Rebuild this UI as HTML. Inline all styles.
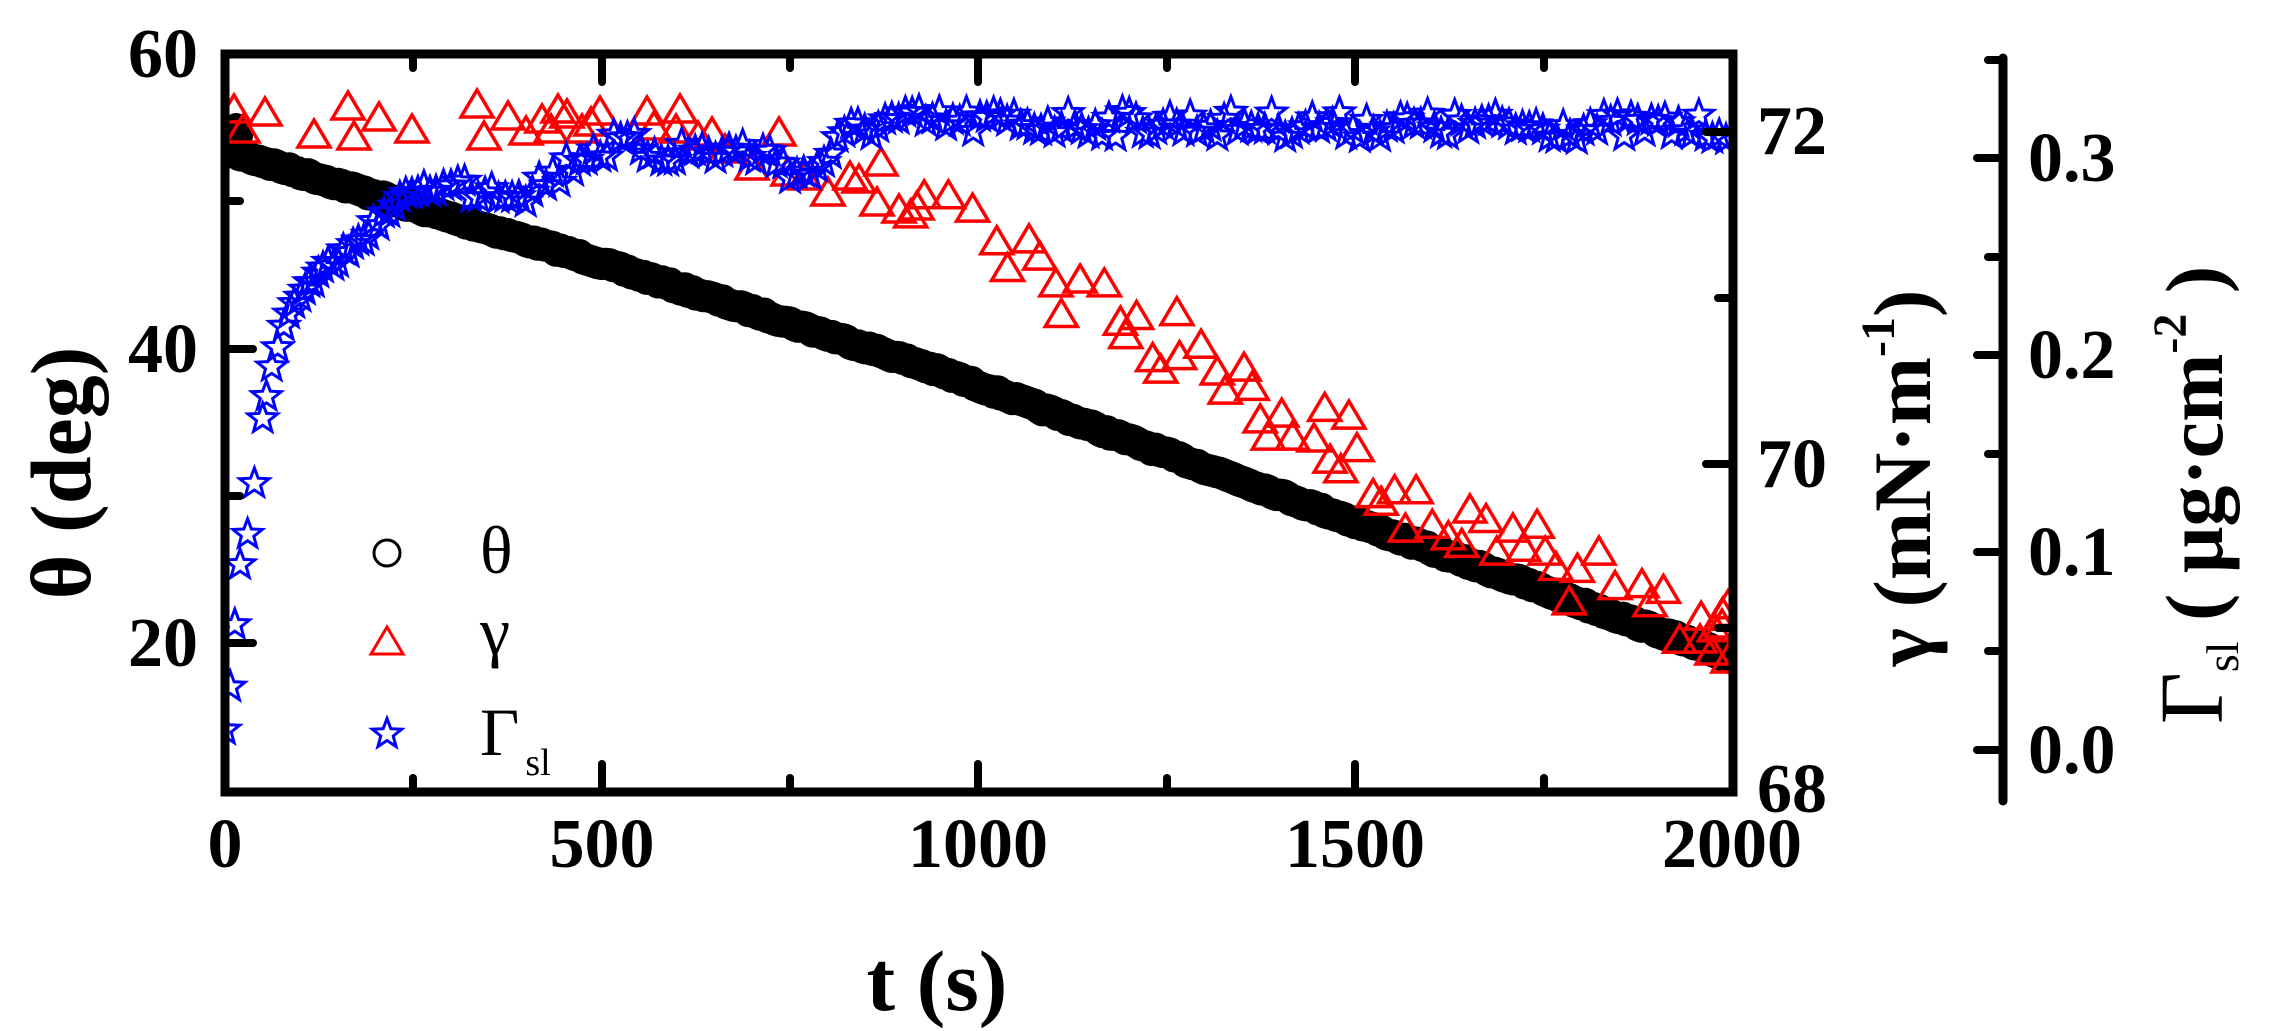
<!DOCTYPE html>
<html><head><meta charset="utf-8">
<style>
html,body{margin:0;padding:0;background:#fff;}
svg{display:block;font-family:"Liberation Serif","DejaVu Serif",serif;}
text,tspan{font-family:"Liberation Serif","DejaVu Serif",serif;}
</style></head>
<body>
<svg id="s" width="2278" height="1031" viewBox="0 0 2278 1031" xmlns="http://www.w3.org/2000/svg" font-family="Liberation Serif, DejaVu Serif, serif">
<defs><clipPath id="cp"><rect x="229" y="58" width="1500" height="730"/></clipPath></defs>
<rect width="2278" height="1031" fill="#fff"/>
<g id="data" clip-path="url(#cp)"></g>
<rect x="225" y="54" width="1508" height="738" fill="none" stroke="#000" stroke-width="9"/>
<g stroke="#000" stroke-width="8" stroke-linecap="round">
<line x1="225" y1="349" x2="253" y2="349"/><line x1="225" y1="643" x2="253" y2="643"/>
<line x1="225" y1="201" x2="240" y2="201"/><line x1="225" y1="496" x2="240" y2="496"/>
<line x1="602" y1="792" x2="602" y2="764"/><line x1="978" y1="792" x2="978" y2="764"/><line x1="1355" y1="792" x2="1355" y2="764"/>
<line x1="413" y1="792" x2="413" y2="778"/><line x1="790" y1="792" x2="790" y2="778"/><line x1="1167" y1="792" x2="1167" y2="778"/><line x1="1544" y1="792" x2="1544" y2="778"/>
<line x1="602" y1="54" x2="602" y2="82"/><line x1="978" y1="54" x2="978" y2="82"/><line x1="1355" y1="54" x2="1355" y2="82"/>
<line x1="413" y1="54" x2="413" y2="68"/><line x1="790" y1="54" x2="790" y2="68"/><line x1="1167" y1="54" x2="1167" y2="68"/><line x1="1544" y1="54" x2="1544" y2="68"/>
<line x1="1733" y1="132" x2="1706" y2="132"/><line x1="1733" y1="464" x2="1706" y2="464"/>
<line x1="1733" y1="298" x2="1718" y2="298"/><line x1="1733" y1="628" x2="1718" y2="628"/>
<line x1="2003" y1="58" x2="2003" y2="801" stroke-width="9"/>
<line x1="2003" y1="158" x2="1977" y2="158"/><line x1="2003" y1="355" x2="1977" y2="355"/><line x1="2003" y1="552" x2="1977" y2="552"/><line x1="2003" y1="750" x2="1977" y2="750"/>
<line x1="2003" y1="60" x2="1988" y2="60"/><line x1="2003" y1="257" x2="1988" y2="257"/><line x1="2003" y1="454" x2="1988" y2="454"/><line x1="2003" y1="651" x2="1988" y2="651"/>
</g>
<g font-size="70" font-weight="bold" fill="#000" font-family="Liberation Serif, serif">
<text x="198" y="77" text-anchor="end">60</text>
<text x="198" y="372" text-anchor="end">40</text>
<text x="198" y="666" text-anchor="end">20</text>
<text x="225" y="867" text-anchor="middle">0</text>
<text x="602" y="867" text-anchor="middle">500</text>
<text x="978" y="867" text-anchor="middle">1000</text>
<text x="1355" y="867" text-anchor="middle">1500</text>
<text x="1732" y="867" text-anchor="middle">2000</text>
<text x="1757" y="154">72</text>
<text x="1757" y="487">70</text>
<text x="1757" y="812">68</text>
<text x="2028" y="181">0.3</text>
<text x="2028" y="378">0.2</text>
<text x="2028" y="575">0.1</text>
<text x="2028" y="773">0.0</text>
</g>
<text x="937" y="1010" text-anchor="middle" font-size="86" font-weight="bold" font-family="Liberation Serif, serif">t (s)</text>
<text transform="translate(90,473) rotate(-90)" text-anchor="middle" font-size="86" font-weight="bold" font-family="Liberation Serif, serif">θ (deg)</text>
<text transform="translate(1930,478) rotate(-90)" text-anchor="middle" font-size="82" font-weight="bold" font-family="Liberation Serif, serif">γ (mN·m<tspan font-size="48" dy="-36">-1</tspan><tspan dy="36">)</tspan></text>
<text transform="translate(2222,495) rotate(-90)" text-anchor="middle" font-size="82" font-weight="bold" font-family="Liberation Serif, serif"><tspan font-weight="normal" font-size="90">Γ</tspan><tspan font-size="46" dy="16" font-weight="normal">sl</tspan><tspan dy="-16"> ( μg·cm</tspan><tspan font-size="48" dy="-36">-2</tspan><tspan dy="36"> )</tspan></text>
<circle cx="387" cy="553" r="13" fill="none" stroke="#000" stroke-width="3"/>
<text x="480" y="573" font-size="68" font-family="Liberation Serif, serif">θ</text>
<polygon points="387,627 371,654 403,654" fill="none" stroke="#f00" stroke-width="3"/>
<text x="480" y="654" font-size="68" font-family="Liberation Serif, serif">γ</text>
<g id="lgstar"></g>
<text x="480" y="755" font-size="68" font-family="Liberation Serif, serif">Γ<tspan font-size="38" dy="20" dx="6">sl</tspan></text>
</svg>
<script>
(function(){
var NS="http://www.w3.org/2000/svg";
var g=document.getElementById("data");
function X(t){return 225+t*0.7535;}
function el(n,a,p){var e=document.createElementNS(NS,n);for(var k in a)e.setAttribute(k,a[k]);(p||g).appendChild(e);return e;}
var seed=7;function rnd(){seed=(seed*16807)%2147483647;return seed/2147483647;}
function interp(pts,t){for(var i=1;i<pts.length;i++){if(t<=pts[i][0]){var a=pts[i-1],b=pts[i];return a[1]+(b[1]-a[1])*(t-a[0])/(b[0]-a[0]);}}return pts[pts.length-1][1];}
var th=[[0,150],[60,164],[474,257],[924,365],[1400,495],[2000,658]];
var d="";for(var t=0;t<=2030;t+=5){var y=interp(th,t)+(rnd()-0.5)*3;if(t>2000)y=658+(t-2000)*0.27;d+=(t?"L":"M")+X(t).toFixed(1)+","+y.toFixed(1);}
el("path",{d:d,fill:"none",stroke:"#000","stroke-width":32,"stroke-linecap":"round","stroke-linejoin":"round"});
el("circle",{cx:236,cy:125,r:12,fill:"#000"});el("circle",{cx:240,cy:136,r:13,fill:"#000"});
function tri(cx,cy,p){el("polygon",{points:cx+","+(cy-15)+" "+(cx-16)+","+(cy+12)+" "+(cx+16)+","+(cy+12),fill:"none",stroke:"#f00","stroke-width":3.5},p);}
var tp=[[234,110],[243,130],[265,113],[314,135],[348,107],[354,137],[379,118],[412,130],[477,105],[484,137],[508,117],[526,132],[542,120],[558,110],[567,115],[551,130],[582,130],[600,112],[591,123],[647,112],[654,127],[680,110],[676,130],[698,137],[712,133],[725,150],[752,167],[779,133],[788,173],[805,177],[828,193],[850,177],[859,180],[877,203],[881,163],[899,210],[917,207]];
var zp=[[20,420],[45,370],[90,370],[135,405],[180,490],[240,485],[200,560],[260,530],[290,600],[335,590],[300,680],[380,600],[410,700],[440,685],[515,675],[420,735],[470,795],[560,760],[520,790],[485,825],[590,830],[640,820],[605,880],[655,870],[670,955],[710,940],[790,925],[835,945],[685,1000],[730,1000],[770,1005],[800,1060],[850,1030],[820,1085],[880,1150],[920,1140],[960,1140],[895,1170],[940,1240],[990,1230],[1020,1260],[1060,1190],[1090,1215],[1045,1280],[1110,1300],[1140,1240],[1185,1230],[1160,1290],[1200,1300],[1220,1340],[1260,1345],[1300,1300],[1245,1430],[1330,1390],[1380,1385],[1420,1400],[1395,1435],[1450,1530],[1490,1470],[1530,1460],[1515,1500],[1540,1440]];
zp.forEach(function(p){tp.push([900+p[0]/1.86,50+p[1]/2.61+4]);});
tp.push([1700,640],[1712,652],[1722,625],[1728,660]);
tp.forEach(function(p){tri(p[0],p[1]);});
function star(cx,cy,p){var s="";for(var i=0;i<10;i++){var r=i%2?6.5:15.5;var a=-Math.PI/2+i*Math.PI/5;s+=(cx+r*Math.cos(a)).toFixed(1)+","+(cy+r*Math.sin(a)).toFixed(1)+" ";}el("polygon",{points:s,fill:"none",stroke:"#00f","stroke-width":3},p);}
var sp=[[0,729],[7,684],[13,628],[20,569],[30,532],[39,482],[52,408],[62,368],[75,335],[90,310],[110,287],[140,265],[180,240],[205,220],[250,190],[300,187],[400,190],[440,175],[480,152],[530,145],[580,152],[650,152],[700,152],[740,162],[770,178],[800,155],[840,128],[880,122],[2000,128]];
var early=[0,7,13,20,30,39,50,55,62,70,78,85,92,100,106,112,118,124,130,137,144,150,157,164,170,177,184,190,197,204,211,218,225,232,240,248,256,264,272,280,290];
early.forEach(function(t){star(X(t),interp(sp,t)+(rnd()-0.5)*10);});
for(var t=300;t<=2000;t+=9){var y=interp(sp,t)+(rnd()-0.5)*26;star(X(t),y);}
star(387,734,document.getElementById("lgstar"));
})();
</script>
</body></html>
